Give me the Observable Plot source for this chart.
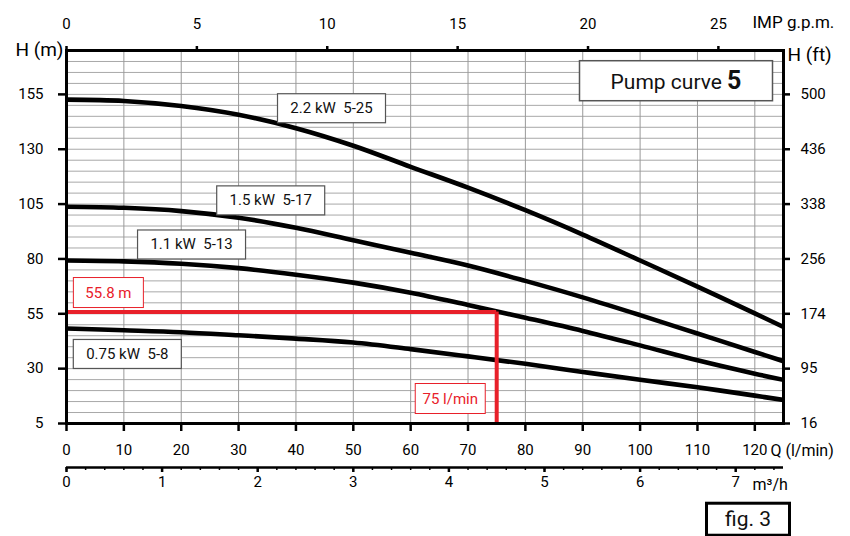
<!DOCTYPE html>
<html><head><meta charset="utf-8">
<script src="https://cdn.jsdelivr.net/npm/d3@7"></script>
<script src="https://cdn.jsdelivr.net/npm/@observablehq/plot@0.6"></script>
<style>
body{margin:0;background:#fff;}
svg{font-family:"Roboto",sans-serif;}
</style></head><body>
<div id="chart"></div>
<script>
// ---- data ----
const flow = [0,10,20,30,40,50,60,70,80,90,100,110,120,125]; // l/min
const head22 = [152.6,152.0,149.7,145.7,139.6,131.6,122.0,112.5,102.2,91.1,79.3,67.4,55.2,49.0];
const head15 = [103.8,103.3,101.8,98.8,94.2,88.5,82.8,77.0,70.0,62.5,54.4,46.0,37.6,33.4];
const head11 = [79.3,78.9,77.8,75.8,72.8,69.2,64.6,59.0,53.2,47.2,40.6,33.8,27.7,24.9];
const head075 = [48.3,47.5,46.6,45.2,43.7,41.9,38.9,35.6,32.2,28.5,24.9,21.5,17.7,15.7];
const curveNames = ["2.2 kW\u00a0 5-25","1.5 kW\u00a0 5-17","1.1 kW\u00a0 5-13","0.75 kW\u00a0 5-8"];
const labelFlow = [46.2,35.6,21.8,10.6];
const labelHead = [148.6,106.6,86.5,36.6];
const hTicks = [5,30,55,80,105,130,155];
const ftLabels = ["16","95","174","256","338","436","500"];
const qTicks = [0,10,20,30,40,50,60,70,80,90,100,110,120];
const gpmTicks = [0,5,10,15,20,25];
const m3hTicks = [0,1,2,3,4,5,6,7];
const dutyFlow = 75, dutyHead = 55.8;
const titleText = "Pump curve 5";
const figText = "fig. 3";

// ---- derived tables ----
const heads = [head22, head15, head11, head075];
const curves = heads.flatMap((hs, k) => hs.map((h, i) => ({name: curveNames[k], q: flow[i], h})));
const labels = curveNames.map((n, k) => ({label: n, q: labelFlow[k], h: labelHead[k]}));
const redLabels = [
  {label: `${dutyHead} m`, q: 7.3, h: 64.6},
  {label: `${dutyFlow} l/min`, q: 66.9, h: 16.3}
];
const LPM_PER_GPM = 4.546, LPM_PER_M3H = 1000/60;
const minorM3h = d3.range(0, 7.41, 0.2).map(v => v * LPM_PER_M3H);
const RED = "#e8202a";

const chart = Plot.plot({
  width: 850, height: 536,
  marginLeft: 66, marginRight: 67, marginTop: 50, marginBottom: 113,
  x: {domain: [0, 125]},
  y: {domain: [5, 175]},
  style: {fontSize: "15px", background: "transparent"},
  marks: [
    Plot.ruleY(d3.range(10, 171, 5), {stroke: "#a8a8a8", strokeWidth: 1}),
    Plot.ruleX(qTicks.filter(d => d > 0), {stroke: "#999", strokeWidth: 1}),
    Plot.line(curves, {x: "q", y: "h", z: "name", stroke: "black", strokeWidth: 4.6, curve: "catmull-rom", clip: true}),
    Plot.ruleY([dutyHead], {x1: 0, x2: dutyFlow, stroke: RED, strokeWidth: 4}),
    Plot.ruleX([dutyFlow], {y1: 5, y2: dutyHead, stroke: RED, strokeWidth: 4}),
    Plot.frame({stroke: "black", strokeWidth: 3}),
    Plot.axisY(hTicks, {anchor: "left", tickSize: 8, tickPadding: 15, strokeWidth: 2.5, fontSize: 15, label: null}),
    Plot.axisY(hTicks, {anchor: "right", tickSize: 6, tickPadding: 11, strokeWidth: 2.5, fontSize: 15, label: null,
      tickFormat: d => ftLabels[hTicks.indexOf(d)]}),
    Plot.axisX(qTicks, {anchor: "bottom", tickSize: 8, tickPadding: 13, strokeWidth: 2.5, fontSize: 15, label: null}),
    Plot.axisX(gpmTicks.map(g => g * LPM_PER_GPM), {anchor: "top", tickSize: 5, tickPadding: 17, strokeWidth: 2.5, fontSize: 15, label: null,
      tickFormat: d => Math.round(d / LPM_PER_GPM)}),
    Plot.ruleY([5], {dy: 44, stroke: "black", strokeWidth: 2.5}),
    Plot.axisX(minorM3h, {anchor: "bottom", dy: 44, tickSize: 3, strokeWidth: 1.5, tickFormat: () => "", label: null}),
    Plot.axisX(m3hTicks.map(m => m * LPM_PER_M3H), {anchor: "bottom", dy: 44, tickSize: 5, tickPadding: 4, strokeWidth: 2.5, fontSize: 15, label: null,
      tickFormat: d => Math.round(d / LPM_PER_M3H)}),
    Plot.text(["H (m)"], {frameAnchor: "top-left", dx: -3, dy: -1, textAnchor: "end", lineAnchor: "middle", fontSize: 19}),
    Plot.text(["H (ft)"], {frameAnchor: "top-right", dx: 4, dy: 4, textAnchor: "start", lineAnchor: "middle", fontSize: 19}),
    Plot.text(["IMP g.p.m."], {frameAnchor: "top-right", dx: -31, dy: -28, textAnchor: "start", lineAnchor: "middle", fontSize: 17}),
    Plot.text(["Q (l/min)"], {frameAnchor: "bottom-right", dx: -13, dy: 27, textAnchor: "start", lineAnchor: "middle", fontSize: 16}),
    Plot.text(["m³/h"], {frameAnchor: "bottom-right", dx: -31, dy: 61, textAnchor: "start", lineAnchor: "middle", fontSize: 16}),
    Plot.text(labels, {x: "q", y: "h", text: "label", fontSize: 15, fill: "#111"}),
    Plot.text(redLabels, {x: "q", y: "h", text: "label", fontSize: 15, fill: RED}),
    Plot.text([titleText], {frameAnchor: "top-right", dx: -107.5, dy: 32, textAnchor: "middle", lineAnchor: "middle", fontSize: 21, fill: "#111"}),
    Plot.text([figText], {frameAnchor: "bottom-right", dx: -35.5, dy: 96, textAnchor: "middle", lineAnchor: "middle", fontSize: 21, fill: "#111"})
  ]
});
document.getElementById("chart").append(chart);

const SVGNS = "http://www.w3.org/2000/svg";
const allTexts = Array.from(chart.querySelectorAll("text"));
const byContent = strs => allTexts.filter(t => strs.includes(t.textContent));

const titleEls = byContent([titleText]);
// bold "5" in title
titleEls.forEach(t => {
  const s = t.textContent; const i = s.lastIndexOf(" ");
  t.textContent = "";
  const a = document.createElementNS(SVGNS, "tspan"); a.textContent = s.slice(0, i + 1);
  const b = document.createElementNS(SVGNS, "tspan"); b.textContent = s.slice(i + 1);
  b.setAttribute("font-weight", "bold"); b.setAttribute("font-size", 25);
  t.append(a, b);
});
function boxes(els, w, h, stroke, sw) {
  els.forEach(t => {
    const b = t.getBBox();
    const r = document.createElementNS(SVGNS, "rect");
    r.setAttribute("x", b.x + b.width / 2 - w / 2);
    r.setAttribute("y", b.y + b.height / 2 - h / 2);
    r.setAttribute("width", w);
    r.setAttribute("height", h);
    r.setAttribute("fill", "white");
    r.setAttribute("stroke", stroke);
    r.setAttribute("stroke-width", sw);
    if (t.getAttribute("transform")) r.setAttribute("transform", t.getAttribute("transform"));
    t.parentNode.insertBefore(r, t);
  });
}
boxes(byContent(curveNames), 108, 29, "#555", 1.2);
boxes(byContent(redLabels.map(d => d.label)), 70, 30, RED, 1);
boxes(titleEls, 193, 40, "#555", 1.5);
boxes(byContent([figText]), 83, 32, "black", 3);
</script>
</body></html>
